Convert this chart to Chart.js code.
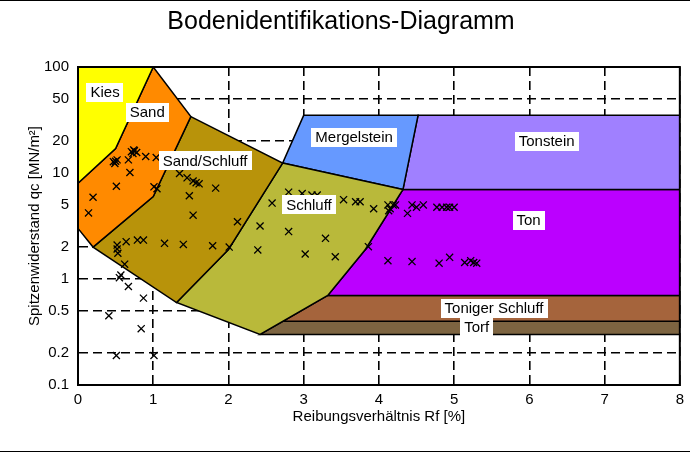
<!DOCTYPE html>
<html>
<head>
<meta charset="utf-8">
<script src="https://cdn.jsdelivr.net/npm/chart.js@4.4.1/dist/chart.umd.min.js"></script>
<style>
html,body{margin:0;padding:0;background:#fff;}
canvas{display:block;}
</style>
</head>
<body>
<canvas id="c" width="690" height="453"></canvas>
<script>
// ---- Data ----
const chartTitle = 'Bodenidentifikations-Diagramm';
const xAxisTitle = 'Reibungsverhältnis Rf [%]';
const yAxisTitle = 'Spitzenwiderstand qc [MN/m²]';
const yTickValues = [0.1, 0.2, 0.5, 1, 2, 5, 10, 20, 50, 100];

// measured points: Reibungsverhältnis Rf [%] and Spitzenwiderstand qc [MN/m²]
const rfValues = [
  0.14, 0.20, 0.47, 0.49, 0.52, 0.50, 0.51, 0.67, 0.69, 0.71, 0.73, 0.75, 0.78, 0.74, 0.90, 1.04, 1.01, 1.05,
  1.35, 1.45, 1.53, 1.57, 1.61, 1.83, 1.48, 1.53, 2.12,
  0.52, 0.64, 0.79, 0.87, 1.15, 1.40, 1.79, 2.01,
  0.52, 0.53, 0.62, 0.57, 0.55, 0.67, 0.87, 0.41, 0.84, 0.51, 1.01,
  2.42, 2.58, 2.80, 2.98, 3.11, 3.18, 3.53, 3.69, 3.75, 3.93, 2.80, 3.29, 2.39, 3.02, 3.42, 3.86,
  4.12, 4.15, 4.19, 4.22, 4.13, 4.38, 4.44, 4.50, 4.59, 4.77, 4.84, 4.90, 4.94, 5.00,
  4.12, 4.44, 4.80, 4.94, 5.14, 5.22, 5.26, 5.30
];
const qcValues = [
  4.2, 5.9, 12.8, 12.3, 13.3, 12.9, 7.5, 13.3, 10.1, 15.9, 15.3, 16.2, 15.6, 16.5, 14.3, 14.0, 7.4, 7.1,
  9.9, 9.0, 8.4, 8.1, 7.9, 7.2, 6.1, 4.0, 3.47,
  2.09, 2.25, 2.33, 2.33, 2.17, 2.12, 2.06, 2.0,
  1.92, 1.75, 1.38, 1.09, 1.03, 0.85, 0.66, 0.45, 0.34, 0.19, 0.19,
  3.16, 5.2, 6.6, 6.4, 6.2, 6.2, 5.6, 5.35, 5.35, 4.6, 2.8, 2.42, 1.88, 1.72, 1.62, 2.02,
  5.0, 4.6, 5.0, 5.0, 4.4, 4.16, 5.0, 4.75, 5.0, 4.75, 4.75, 4.75, 4.75, 4.75,
  1.49, 1.46, 1.41, 1.6, 1.43, 1.49, 1.43, 1.41
];

// soil zones as [Rf, qc] vertex lists
const kies = [[0,100],[1,100],[0.5,17],[0,8],[0,100]];
const sand = [[1,100],[1.5,34],[1.0,6],[0.2,2],[0,3],[0,8],[0.5,17],[1,100]];
const sandSchluff = [[1.5,34],[2.72,12.4],[2.0,1.9],[1.31,0.6],[0.2,2],[1.0,6],[1.5,34]];
const schluff = [[2.72,12.4],[4.32,7],[3.82,1.9],[3.32,0.7],[2.42,0.3],[1.31,0.6],[2.0,1.9],[2.72,12.4]];
const mergelstein = [[2.72,12.4],[3.0,35],[4.52,35],[4.32,7],[2.72,12.4]];
const tonstein = [[4.32,7],[4.52,35],[8,35],[8,7],[4.32,7]];
const ton = [[4.32,7],[8,7],[8,0.7],[3.32,0.7],[3.82,1.9],[4.32,7]];
const tonigerSchluff = [[3.32,0.7],[8,0.7],[8,0.4],[2.73,0.4],[3.32,0.7]];
const torf = [[2.73,0.4],[8,0.4],[8,0.3],[2.42,0.3],[2.73,0.4]];

const zoneNames = ['Kies','Sand','Sand/Schluff','Schluff','Mergelstein','Tonstein','Ton','Toniger Schluff','Torf'];
const zoneShapes = [kies, sand, sandSchluff, schluff, mergelstein, tonstein, ton, tonigerSchluff, torf];

// ---- Styles ----
const zoneColors = ['#FFFF00','#FF8A00','#B8930A','#B9B93A','#6699FF','#A080FF','#BB00FF','#A5643C','#7D6441'];
const zoneLabelAnchors = [[0.36,58],[0.92,37],[1.69,13.0],[3.07,5.0],[3.67,21.5],[6.23,20],[5.99,3.6],[5.53,0.53],[5.30,0.35]];

Chart.defaults.font.family = "'Liberation Sans', Arial, sans-serif";
Chart.defaults.color = '#000';

const pointsDataset = {
  label: 'Messwerte',
  data: rfValues.map((x, i) => ({x, y: qcValues[i]})),
  showLine: false,
  pointStyle: 'crossRot',
  pointRadius: 5,
  pointBorderColor: '#000',
  pointBorderWidth: 1.3,
  order: 0
};

const zoneDatasets = zoneShapes.map((shape, i) => ({
  label: zoneNames[i],
  data: shape.map(([x, y]) => ({x, y})),
  showLine: true,
  fill: 'shape',
  backgroundColor: zoneColors[i],
  borderColor: '#000',
  borderWidth: 1.5,
  pointRadius: 0,
  tension: 0,
  order: 1
}));

const framePlugin = {
  id: 'frame',
  afterDraw(chart) {
    const {ctx, chartArea: a} = chart;
    ctx.save();
    ctx.strokeStyle = '#000';
    ctx.lineWidth = 2;
    ctx.strokeRect(a.left, a.top, a.right - a.left, a.bottom - a.top);
    ctx.lineWidth = 1;
    ctx.beginPath();
    ctx.moveTo(0, 0.5); ctx.lineTo(chart.width, 0.5);
    ctx.moveTo(0, 451.5); ctx.lineTo(chart.width, 451.5);
    ctx.stroke();
    // zone labels
    const xs = chart.scales.x, ys = chart.scales.y;
    ctx.font = "15px 'Liberation Sans', Arial, sans-serif";
    ctx.textAlign = 'center';
    ctx.textBaseline = 'middle';
    zoneNames.forEach((name, i) => {
      const px = xs.getPixelForValue(zoneLabelAnchors[i][0]);
      const py = ys.getPixelForValue(zoneLabelAnchors[i][1]);
      const w = ctx.measureText(name).width + 8;
      const h = 19;
      ctx.fillStyle = '#fff';
      ctx.fillRect(Math.round(px - w / 2), Math.round(py - h / 2), Math.round(w), h);
      ctx.fillStyle = '#000';
      ctx.fillText(name, px, py + 0.5);
    });
    ctx.restore();
  }
};

new Chart(document.getElementById('c'), {
  type: 'scatter',
  data: {datasets: [pointsDataset, ...zoneDatasets]},
  options: {
    responsive: false,
    animation: false,
    layout: {padding: {left: 0, right: 8, top: 0, bottom: 0}},
    plugins: {
      legend: {display: false},
      tooltip: {enabled: false},
      title: {
        display: true, text: chartTitle, color: '#000',
        font: {size: 25, weight: 'normal'},
        padding: {top: 7, bottom: 30}
      }
    },
    scales: {
      x: {
        type: 'linear', min: 0, max: 8, z: 1,
        ticks: {stepSize: 1, padding: 6, color: '#000', font: {size: 15}, autoSkip: false, maxRotation: 0},
        grid: {color: '#000', lineWidth: 1.6, drawTicks: false},
        border: {display: true, color: '#000', width: 2, dash: [9, 5]},
        title: {display: true, text: xAxisTitle, color: '#000', font: {size: 15}, padding: {top: 0, bottom: 27}},
        afterFit(s) { s.height = 68; }
      },
      y: {
        type: 'logarithmic', min: 0.1, max: 100, z: 1,
        afterBuildTicks(s) { s.ticks = yTickValues.map(v => ({value: v})); },
        ticks: {callback: v => String(v), padding: 9, color: '#000', font: {size: 15}, autoSkip: false},
        grid: {color: '#000', lineWidth: 1.6, drawTicks: false},
        border: {display: true, color: '#000', width: 2, dash: [9, 5]},
        title: {display: true, text: yAxisTitle, color: '#000', font: {size: 15}, padding: {top: 26, bottom: 0}},
        afterFit(s) { s.width = 78; }
      }
    }
  },
  plugins: [framePlugin]
});
</script>
</body>
</html>
